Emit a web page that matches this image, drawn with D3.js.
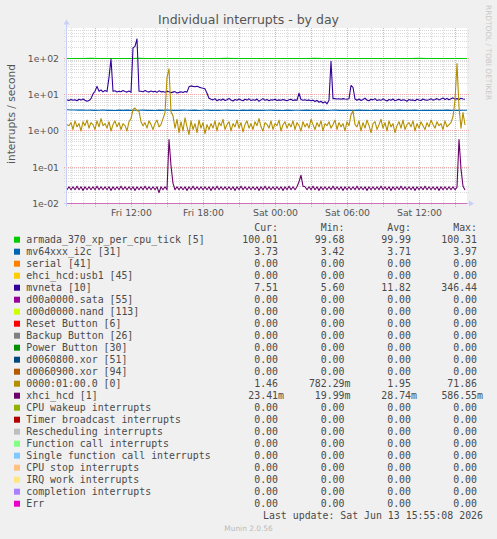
<!DOCTYPE html>
<html>
<head>
<meta charset="UTF-8">
<title>Individual interrupts - by day</title>
<style>
body, html {
	margin: 0;
	padding: 0;
	background: #f0f0f0;
	overflow: hidden;
}
svg text {
	font-family: 'DejaVu Sans', sans-serif;
}
.mono text {
	font-family: 'DejaVu Sans Mono', monospace;
}
</style>
</head>
<body>
<div id="chart"></div>
<script src="https://cdn.jsdelivr.net/npm/d3@7"></script>
<script>
// legend rows, in rrd draw order
var names = ["armada_370_xp_per_cpu_tick [5]", "mv64xxx_i2c [31]", "serial [41]", "ehci_hcd:usb1 [45]", "mvneta [10]",
	"d00a0000.sata [55]", "d00d0000.nand [113]", "Reset Button [6]", "Backup Button [26]", "Power Button [30]",
	"d0060800.xor [51]", "d0060900.xor [94]", "0000:01:00.0 [0]", "xhci_hcd [1]", "CPU wakeup interrupts",
	"Timer broadcast interrupts", "Rescheduling interrupts", "Function call interrupts", "Single function call interrupts",
	"CPU stop interrupts", "IRQ work interrupts", "completion interrupts", "Err"];
var colors = ["#00cc00", "#0066b3", "#ff8000", "#ffcc00", "#330099", "#990099", "#ccff00", "#ff0000", "#808080", "#008f00",
	"#00487d", "#b35a00", "#b38f00", "#6b006b", "#8fb300", "#b30000", "#bebebe", "#80ff80", "#80c9ff", "#ffc080",
	"#ffe680", "#aa80ff", "#ee00cc"];
var curs = ["100.01", "3.73", "0.00", "0.00", "7.51", "0.00", "0.00", "0.00", "0.00", "0.00", "0.00", "0.00", "1.46", "23.41m",
	"0.00", "0.00", "0.00", "0.00", "0.00", "0.00", "0.00", "0.00", "0.00"];
var mins = ["99.68", "3.42", "0.00", "0.00", "5.60", "0.00", "0.00", "0.00", "0.00", "0.00", "0.00", "0.00", "782.29m", "19.99m",
	"0.00", "0.00", "0.00", "0.00", "0.00", "0.00", "0.00", "0.00", "0.00"];
var avgs = ["99.99", "3.71", "0.00", "0.00", "11.82", "0.00", "0.00", "0.00", "0.00", "0.00", "0.00", "0.00", "1.95", "28.74m",
	"0.00", "0.00", "0.00", "0.00", "0.00", "0.00", "0.00", "0.00", "0.00"];
var maxs = ["100.31", "3.97", "0.00", "0.00", "346.44", "0.00", "0.00", "0.00", "0.00", "0.00", "0.00", "0.00", "71.86", "586.55m",
	"0.00", "0.00", "0.00", "0.00", "0.00", "0.00", "0.00", "0.00", "0.00"];

var yTicks = [0.01, 0.1, 1, 10, 100];
var yLabels = ["1e-02", "1e-01", "1e+00", "1e+01", "1e+02"];

// per cpu tick, one value every 40 min
var tickVals = [100.1, 99.9, 100.0, 100.2, 99.8, 100.0, 100.1, 99.9, 100.0, 100.3,
	99.7, 100.0, 100.1, 99.9, 100.0, 100.0, 99.8, 100.1, 100.0, 99.9,
	100.2, 100.0, 99.9, 100.0, 100.1, 99.8, 100.0, 100.0, 100.1, 99.9,
	100.0, 100.2, 99.9, 100.0, 100.0, 99.8, 100.1, 100.0, 99.9, 100.0,
	100.1, 100.0, 99.9, 100.0, 100.2, 99.9, 100.0, 100.0, 99.9, 100.01, 100.01];

// i2c, one value every 20 min
var i2cVals = [3.85, 3.8, 3.78, 3.75, 3.8, 3.72, 3.76, 3.7, 3.74, 3.78,
	3.7, 3.73, 3.68, 3.75, 3.71, 3.77, 3.69, 3.74, 3.72, 3.76,
	3.7, 3.73, 3.67, 3.75, 3.71, 3.78, 3.7, 3.74, 3.69, 3.76,
	3.72, 3.7, 3.75, 3.68, 3.73, 3.77, 3.71, 3.74, 3.69, 3.72,
	3.76, 3.7, 3.73, 3.68, 3.75, 3.71, 3.77, 3.7, 3.74, 3.69,
	3.72, 3.76, 3.71, 3.73, 3.68, 3.75, 3.7, 3.74, 3.72, 3.69,
	3.76, 3.71, 3.73, 3.7, 3.75, 3.68, 3.72, 3.77, 3.7, 3.74,
	3.69, 3.73, 3.71, 3.76, 3.7, 3.72, 3.68, 3.75, 3.71, 3.74,
	3.7, 3.73, 3.69, 3.76, 3.71, 3.72, 3.7, 3.75, 3.68, 3.73,
	3.71, 3.74, 3.7, 3.72, 3.69, 3.75, 3.71, 3.73, 3.7, 3.73, 3.73];

// mvneta, one value every 10 min
var mvnetaVals = [7.2, 6.9, 7.4, 7.0, 7.3, 6.8, 7.5, 7.1, 7.6, 7.0, 6.6, 6.9, 7.8, 10.5, 12.5, 17, 12.5, 13.5, 12, 13,
	12.2, 30, 97, 12.4, 12.8, 11.9, 12.5, 12.1, 13.0, 12.3, 11.8, 12.6, 11.6, 196, 215, 346, 12.5, 12.5, 12.0, 13.0,
	12.2, 11.8, 12.6, 12.0, 12.4, 11.6, 12.8, 12.0, 12.2, 11.7, 12.5, 12.0, 11.4, 11.8, 12.2, 11.2, 11.6, 12.0, 11.5, 12.3,
	11.8, 16.5, 17.5, 17, 16.6, 17.2, 16.2, 15.5, 15.0, 14.5, 11, 8.0, 7.5, 7.2, 7.8, 6.8, 7.4, 7.0, 7.6, 6.9,
	7.3, 7.9, 7.1, 6.7, 7.4, 7.0, 7.6, 7.2, 6.8, 7.5, 7.1, 7.7, 6.9, 7.3, 7.0, 7.6, 6.6, 7.2, 7.8, 7.0,
	7.4, 6.8, 7.3, 7.1, 7.5, 6.9, 7.2, 7.0, 7.4, 7.1, 6.8, 7.3, 7.5, 6.9, 7.2, 7.0, 11, 7.4, 7.0, 7.3,
	6.9, 7.2, 6.8, 7.1, 6.5, 7.0, 6.2, 6.6, 5.9, 6.4, 5.6, 7.0, 83, 7.8, 7.8, 7.6, 7.7, 7.5, 7.8, 7.6,
	7.5, 7.7, 18, 16, 7.6, 7.0, 7.6, 6.9, 7.4, 8.0, 7.1, 6.8, 7.5, 7.2, 7.8, 6.9, 7.3, 7.0, 7.7, 7.1,
	6.7, 7.4, 7.0, 7.6, 6.8, 7.2, 7.5, 6.9, 7.3, 7.1, 6.6, 7.4, 7.0, 7.2, 6.8, 7.5, 7.1, 6.9, 7.6, 7.2,
	7.0, 7.3, 7.7, 7.1, 7.4, 7.8, 7.2, 7.6, 8.1, 7.4, 7.9, 7.3, 7.7, 8.2, 7.5, 7.8, 7.4, 8.0, 7.6, 7.51];

// 0000:01:00.0, one value every 10 min
var pcieVals = [1.5, 1.4, 1.7, 1.1, 1.9, 1.3, 1.6, 1.0, 1.8, 1.4, 2.0, 1.2, 1.7, 1.5, 1.1, 1.9, 1.3, 2.2, 1.4, 1.6,
	1.2, 1.8, 1.0, 1.5, 1.9, 1.3, 1.7, 1.1, 1.6, 1.4, 1.0, 1.8, 2.2, 3.9, 4.3, 3.6, 3.5, 1.8, 1.4, 1.7,
	1.2, 1.9, 1.5, 1.1, 1.6, 2.0, 1.3, 1.5, 2.2, 3.2, 30, 52, 3.4, 2.6, 1.2, 2.1, 0.9, 1.8, 1.0, 2.3,
	1.3, 0.8, 1.9, 1.1, 1.6, 0.9, 2.0, 1.2, 1.7, 0.85, 1.5, 1.1, 1.6, 1.2, 1.9, 1.0, 1.7, 1.4, 2.1, 1.1,
	1.5, 1.8, 1.0, 1.6, 1.3, 2.0, 1.2, 1.7, 0.95, 1.5, 1.9, 1.2, 1.6, 1.1, 1.8, 1.4, 2.2, 1.3, 1.0, 1.7,
	1.5, 1.2, 1.9, 1.1, 1.6, 1.4, 2.0, 1.0, 1.5, 1.8, 1.2, 1.6, 1.3, 1.9, 1.1, 1.7, 1.4, 1.0, 1.8, 1.3,
	1.6, 1.2, 2.1, 1.5, 1.1, 1.7, 1.3, 1.9, 1.0, 1.6, 1.4, 1.8, 1.2, 1.5, 2.0, 1.1, 1.7, 1.3, 1.6, 1.0,
	1.8, 1.4, 2.8, 3.6, 1.5, 1.3, 1.9, 1.0, 1.7, 1.2, 2.0, 1.4, 0.9, 1.6, 1.8, 1.1, 1.5, 2.1, 1.2, 1.7,
	1.0, 1.9, 1.3, 1.6, 0.9, 1.4, 1.8, 1.2, 2.0, 1.1, 1.5, 1.7, 1.3, 1.9, 1.0, 1.6, 1.2, 1.8, 1.4, 1.1,
	1.7, 1.3, 2.0, 1.5, 1.2, 1.8, 1.4, 1.6, 1.1, 1.9, 1.3, 1.5, 1.7, 2.5, 7, 72, 4.5, 1.2, 3.2, 1.46];

// xhci_hcd in milli-interrupts/s, one value every 10 min
var xhciMilli = [24, 29, 24, 29, 24, 30, 24, 29, 23, 29, 24, 29, 24, 29, 24, 30, 24, 29, 24, 29,
	24, 29, 23, 29, 24, 29, 24, 30, 24, 29, 24, 29, 24, 29, 23, 29, 24, 29, 24, 30,
	24, 29, 24, 29, 24, 29, 20, 29, 24, 29, 24, 580, 110, 36, 24, 29, 24, 29, 24, 29,
	23, 29, 24, 30, 24, 29, 24, 29, 24, 29, 24, 29, 23, 29, 24, 30, 24, 29, 24, 29,
	24, 29, 24, 29, 23, 29, 24, 30, 24, 29, 24, 29, 24, 29, 24, 29, 23, 29, 24, 30,
	24, 29, 24, 29, 24, 29, 24, 29, 23, 29, 24, 30, 24, 29, 24, 29, 40, 60, 30, 29,
	24, 29, 24, 30, 24, 29, 23, 29, 24, 29, 24, 29, 24, 30, 24, 29, 24, 29, 23, 29,
	24, 29, 24, 29, 24, 30, 24, 29, 24, 29, 23, 29, 24, 29, 24, 29, 24, 30, 24, 29,
	24, 29, 23, 29, 24, 29, 24, 30, 24, 29, 24, 29, 24, 29, 23, 29, 24, 29, 24, 30,
	24, 29, 24, 29, 24, 29, 23, 29, 24, 29, 24, 29, 24, 29, 24, 28, 580, 90, 30, 23.4];

var width = 497;
var height = 539;

var t0 = new Date(2026, 5, 12, 6, 40);
var t1 = new Date(2026, 5, 13, 16, 0);

var pLeft = 67, pRight = 467, pTop = 28.5, pBottom = 203.5;

var x = d3.scaleTime().domain([t0, t1]).range([pLeft, pRight]);
var y = d3.scaleLog().domain([0.01, 670]).range([pBottom, pTop]);

function series(vals, stepMin) {
	return vals.map(function(v, i) {return {t: d3.timeMinute.offset(t0, i*stepMin), v: v}});
}

function rowY(v) {
	return Math.floor(y(v)) + 0.5;
}

var plotted = {};
plotted[0] = series(tickVals, 40);
plotted[1] = series(i2cVals, 20);
plotted[4] = series(mvnetaVals, 10);
plotted[12] = series(pcieVals, 10);
plotted[13] = series(xhciMilli.map(function(d) {return d/1000}), 10);

var svg = d3.select("#chart").append("svg")
	.attr("width", width)
	.attr("height", height)
	.style("display", "block")
	.style("background", "#f0f0f0");

svg.append("rect").attr("x", pLeft).attr("y", pTop - 0.5).attr("width", pRight - pLeft).attr("height", pBottom - pTop + 1).attr("fill", "#ffffff");

// grid
var grid = svg.append("g").attr("shape-rendering", "crispEdges");
var minorCol = "#dadada";
var majorCol = "#f0a8a8";

var yMinor = y.ticks().filter(function(d) {return yTicks.indexOf(d) == -1});
grid.selectAll(".hmin").data(yMinor).enter().append("line")
	.attr("x1", pLeft - 3).attr("x2", pRight + 3)
	.attr("y1", rowY).attr("y2", rowY)
	.attr("stroke", minorCol).attr("stroke-dasharray", "1,1");

var hours = d3.timeHour.range(t0, t1);
grid.selectAll(".vmin").data(hours.filter(function(d) {return d.getHours() % 3 != 0})).enter().append("line")
	.attr("x1", function(d) {return Math.round(x(d)) + 0.5}).attr("x2", function(d) {return Math.round(x(d)) + 0.5})
	.attr("y1", pTop - 0.5).attr("y2", pBottom + 3)
	.attr("stroke", minorCol).attr("stroke-dasharray", "1,1");

grid.selectAll(".hmaj").data(yTicks).enter().append("line")
	.attr("x1", pLeft - 3).attr("x2", pRight + 3)
	.attr("y1", rowY).attr("y2", rowY)
	.attr("stroke", majorCol).attr("stroke-dasharray", "1,1");

grid.selectAll(".vmaj").data(hours.filter(function(d) {return d.getHours() % 3 == 0})).enter().append("line")
	.attr("x1", function(d) {return Math.round(x(d)) + 0.5}).attr("x2", function(d) {return Math.round(x(d)) + 0.5})
	.attr("y1", pTop - 0.5).attr("y2", pBottom + 3)
	.attr("stroke", majorCol).attr("stroke-dasharray", "1,1");

// axes lines with arrows
var axisCol = "#c8d0f8";
svg.append("line").attr("x1", pLeft - 0.5).attr("x2", pLeft - 0.5).attr("y1", pBottom + 3).attr("y2", pTop - 6).attr("stroke", axisCol);
svg.append("path").attr("d", "M" + (pLeft - 3.5) + "," + (pTop - 4) + "L" + (pLeft - 0.5) + "," + (pTop - 9) + "L" + (pLeft + 2.5) + "," + (pTop - 4) + "Z").attr("fill", axisCol);
svg.append("line").attr("x1", pLeft - 3).attr("x2", pRight + 4).attr("y1", pBottom).attr("y2", pBottom).attr("stroke", axisCol);
svg.append("path").attr("d", "M" + (pRight + 2) + "," + (pBottom - 3) + "L" + (pRight + 7) + "," + pBottom + "L" + (pRight + 2) + "," + (pBottom + 3) + "Z").attr("fill", axisCol);

// lines
svg.append("clipPath").attr("id", "clip").append("rect").attr("x", pLeft).attr("y", pTop - 1).attr("width", pRight - pLeft).attr("height", pBottom - pTop + 2);

var line = d3.line()
	.x(function(d) {return x(d.t)})
	.y(function(d) {return y(Math.max(d.v, 0.01))});

// zero-valued series end up on the bottom edge of the log scale
var lines = svg.append("g").attr("clip-path", "url(#clip)");
names.forEach(function(n, i) {
	var data = plotted[i] || [{t: t0, v: 0}, {t: t1, v: 0}];
	lines.append("path").datum(data)
		.attr("d", line)
		.attr("fill", "none")
		.attr("stroke", colors[i])
		.attr("stroke-opacity", plotted[i] ? 1 : 0.35)
		.attr("stroke-width", plotted[i] ? 1.1 : 1)
		.attr("shape-rendering", plotted[i] ? null : "crispEdges")
		.attr("stroke-linejoin", "round");
});

// axis labels
var yAxis = svg.append("g").attr("transform", "translate(" + (pLeft - 3) + ",0)")
	.call(d3.axisLeft(y).tickValues(yTicks).tickFormat(function(d, i) {return yLabels[i]}).tickSize(0).tickPadding(5));
yAxis.select(".domain").remove();
yAxis.selectAll("text").attr("font-family", "'DejaVu Sans', sans-serif").attr("font-size", "9.3px").attr("fill", "#555555");

var xAxis = svg.append("g").attr("transform", "translate(0," + pBottom + ")")
	.call(d3.axisBottom(x).ticks(d3.timeHour.every(6)).tickFormat(d3.timeFormat("%a %H:%M")).tickSize(0).tickPadding(5.5));
xAxis.select(".domain").remove();
xAxis.selectAll("text").attr("font-family", "'DejaVu Sans', sans-serif").attr("font-size", "9.3px").attr("fill", "#555555");

// title and side texts
svg.append("text").attr("x", 248.5).attr("y", 23.5).attr("text-anchor", "middle")
	.attr("font-size", "12.5px").attr("fill", "#555555").text("Individual interrupts - by day");

svg.append("text").attr("transform", "translate(14.5,114) rotate(-90)").attr("text-anchor", "middle")
	.attr("font-size", "10.6px").attr("fill", "#555555").text("interrupts / second");

svg.append("text").attr("transform", "translate(485.5,5) rotate(90)").attr("text-anchor", "start")
	.attr("font-size", "7.4px").attr("fill", "#c8c8c8").text("RRDTOOL / TOBI OETIKER");

// legend
var charW = 6;
var colRight = [284, 350.5, 417, 483];
var legend = svg.append("g").attr("class", "mono").attr("fill", "#4a4a4a").attr("font-size", "9.9px");

legend.selectAll(".head").data(["Cur:", "Min:", "Avg:", "Max:"]).enter().append("text")
	.attr("x", function(d, i) {return colRight[i] - charW}).attr("y", 231.3)
	.attr("text-anchor", "end").text(function(d) {return d});

var rows = legend.selectAll(".row").data(names).enter().append("g")
	.attr("transform", function(d, i) {return "translate(0," + (243.3 + i*12) + ")"});

rows.append("rect").attr("x", 14).attr("y", -6.6).attr("width", 6).attr("height", 6)
	.attr("fill", function(d, i) {return colors[i]});
rows.append("text").attr("x", 26.3).attr("y", 0).text(function(d) {return d});

[curs, mins, avgs, maxs].forEach(function(col, c) {
	rows.append("text")
		.attr("x", function(d, i) {return /m$/.test(col[i]) ? colRight[c] : colRight[c] - charW})
		.attr("y", 0).attr("text-anchor", "end")
		.text(function(d, i) {return col[i]});
});

legend.append("text").attr("x", 483).attr("y", 519.3).attr("text-anchor", "end")
	.text("Last update: Sat Jun 13 15:55:08 2026");

svg.append("text").attr("x", 248.5).attr("y", 530.7).attr("text-anchor", "middle")
	.attr("font-size", "7.4px").attr("fill", "#bbbbbb").text("Munin 2.0.56");
</script>
</body>
</html>
